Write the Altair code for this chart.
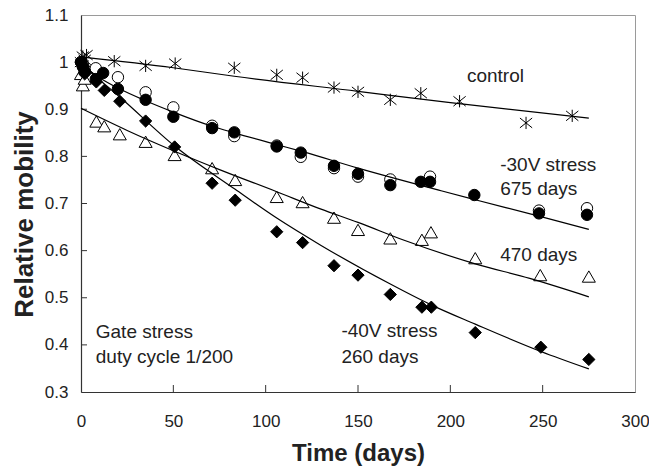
import altair as alt
import pandas as pd

# ---------------- data ----------------
ctrl_day = [0, 1, 2, 3, 18, 35, 51, 83, 106, 120, 137, 150, 167.5, 184, 205, 241, 266]
ctrl_val = [1.000, 1.012, 1.005, 1.015, 1.002, 0.992, 0.997, 0.988, 0.973, 0.967,
            0.946, 0.937, 0.920, 0.934, 0.917, 0.871, 0.886]

m30o_day = [0, 1, 2, 8, 20, 35, 50, 71, 83, 106, 119, 137, 150, 167.5, 189, 248, 274]
m30o_val = [1.000, 0.995, 0.985, 0.987, 0.968, 0.936, 0.904, 0.865, 0.843, 0.823,
            0.799, 0.775, 0.757, 0.751, 0.757, 0.685, 0.690]

m30f_day = [0, 1, 2, 8, 12, 20, 35, 50, 71, 83, 106, 119, 137, 150, 167.5, 184, 189, 213, 248, 274]
m30f_val = [1.000, 0.990, 0.980, 0.964, 0.977, 0.943, 0.920, 0.884, 0.860, 0.851,
            0.821, 0.808, 0.780, 0.763, 0.739, 0.746, 0.746, 0.718, 0.679, 0.676]

tri_day = [0, 1, 2, 8.3, 12.6, 21, 35, 50.7, 71, 83.5, 106, 120, 137, 150, 167.5,
           184.6, 189.5, 213.5, 248.7, 275]
tri_val = [0.975, 0.951, 0.965, 0.874, 0.864, 0.847, 0.831, 0.803, 0.775, 0.750,
           0.714, 0.703, 0.670, 0.644, 0.626, 0.623, 0.639, 0.584, 0.548, 0.545]

dia_day = [0, 1, 2, 8.3, 12.6, 21, 35, 50.7, 71, 83.5, 106, 120, 137, 150, 167.5,
           184.6, 189.7, 213.5, 249, 275]
dia_val = [1.000, 0.990, 0.975, 0.958, 0.940, 0.917, 0.875, 0.820, 0.743, 0.707,
           0.640, 0.617, 0.568, 0.548, 0.507, 0.480, 0.480, 0.426, 0.395, 0.369]

# fitted curves
ctrl_fit_day = [0, 50, 83, 150, 200, 275]
ctrl_fit_val = [1.011, 0.988, 0.970, 0.938, 0.914, 0.881]

m30_fit_day = [0, 10, 20, 35, 50, 71, 83, 106, 120, 150, 195, 213.5, 249, 275]
m30_fit_val = [0.995, 0.967, 0.945, 0.918, 0.894, 0.864, 0.850, 0.825, 0.810,
               0.775, 0.727, 0.708, 0.672, 0.645]

d470_fit_day = [0, 25, 50, 75, 106, 130, 150, 175, 213.5, 243, 275]
d470_fit_val = [0.902, 0.855, 0.812, 0.772, 0.725, 0.688, 0.660, 0.622, 0.572, 0.541, 0.502]

m40_fit_day = [0, 21, 50.7, 83.5, 106, 130, 167.5, 189, 213.5, 249, 275]
m40_fit_val = [0.995, 0.926, 0.822, 0.730, 0.669, 0.611, 0.529, 0.486, 0.444, 0.386, 0.349]

note_text = ["control", "-30V stress", "675 days", "470 days",
             "-40V stress", "260 days", "Gate stress", "duty cycle 1/200"]
note_day = [209, 227, 227, 227, 141, 141, 8, 8]
note_val = [0.958, 0.770, 0.718, 0.577, 0.416, 0.362, 0.415, 0.361]

x_ticks = [0, 50, 100, 150, 200, 250, 300]
y_ticks = [0.3, 0.4, 0.5, 0.6, 0.7, 0.8, 0.9, 1.0, 1.1]

# ---------------- chart ----------------
W, H = 554, 377
FONT = "Liberation Sans"
INK = "#222222"

xs = alt.Scale(domain=[0, 300], nice=False, zero=False)
ys = alt.Scale(domain=[0.3, 1.1], nice=False, zero=False)

x_axis = alt.Axis(values=x_ticks, ticks=False, tickSize=0, grid=False,
                  domainColor="#333333", domainWidth=1.2,
                  labelFont=FONT, labelFontSize=17, labelColor=INK, labelPadding=21,
                  labelFlush=False,
                  title="Time (days)", titleFont=FONT, titleFontSize=24,
                  titleFontWeight="bold", titleColor=INK, titlePadding=12)
y_axis = alt.Axis(values=y_ticks, ticks=False, tickSize=0, grid=False,
                  domainColor="#333333", domainWidth=1.2,
                  labelFont=FONT, labelFontSize=17, labelColor=INK, labelPadding=13,
                  labelFlush=False,
                  labelExpr="datum.value == 1 ? '1' : format(datum.value, '.1f')",
                  title="Relative mobility", titleFont=FONT, titleFontSize=26,
                  titleFontWeight="bold", titleColor=INK, titlePadding=7, titleY=199)

def X():
    return alt.X("day:Q", scale=xs, axis=x_axis)

def Y():
    return alt.Y("val:Q", scale=ys, axis=y_axis)

def df(d, v):
    return pd.DataFrame({"day": d, "val": v})

def fit(d, v):
    return alt.Chart(df(d, v)).mark_line(color="black", strokeWidth=1.2,
                                          interpolate="monotone").encode(x=X(), y=Y())

def pts(d, v, shape, filled, size, fill="white"):
    kw = dict(shape=shape, size=size, stroke="black", strokeWidth=1, opacity=1)
    if filled:
        kw.update(filled=True, fill="black")
    else:
        kw.update(filled=True, fill=fill)
    return alt.Chart(df(d, v)).mark_point(**kw).encode(x=X(), y=Y())

star_path = "M-1,-0.8L1,0.8M-1,0.8L1,-0.8M0,-1L0,1"

stars = alt.Chart(df(ctrl_day, ctrl_val)).mark_point(
    shape=star_path, size=150, filled=False, stroke="black", strokeWidth=1, opacity=1
).encode(x=X(), y=Y())

tri = pts(tri_day, tri_val, "triangle-up", False, 170)
open_c = pts(m30o_day, m30o_val, "circle", False, 130)
fill_c = pts(m30f_day, m30f_val, "circle", True, 130)
dia = pts(dia_day, dia_val, "diamond", True, 150)

x_tick_rules = alt.Chart(pd.DataFrame({"day": x_ticks[1:-1]})).mark_rule(
    color="#333333", strokeWidth=1
).encode(x=X(), y=alt.value(H), y2=alt.value(H - 7))

y_tick_rules = alt.Chart(pd.DataFrame({"val": y_ticks[1:-1]})).mark_rule(
    color="#333333", strokeWidth=1
).encode(y=Y(), x=alt.value(0), x2=alt.value(6))

notes = alt.Chart(pd.DataFrame({"day": note_day, "val": note_val, "t": note_text})).mark_text(
    align="left", baseline="alphabetic", font=FONT, fontSize=19, color=INK
).encode(x=X(), y=Y(), text="t:N")

chart = alt.layer(
    x_tick_rules, y_tick_rules,
    tri, open_c, fill_c, dia, stars,
    fit(ctrl_fit_day, ctrl_fit_val), fit(m30_fit_day, m30_fit_val),
    fit(d470_fit_day, d470_fit_val), fit(m40_fit_day, m40_fit_val),
    notes,
).properties(
    width=W, height=H,
    autosize=alt.AutoSizeParams(type="none"),
    padding={"left": 81, "top": 15, "right": 14, "bottom": 80},
    background="white",
).configure_view(stroke="#9a9a9a", strokeWidth=1)

chart.save("out.html", embed_options={"renderer": "svg", "actions": False})
